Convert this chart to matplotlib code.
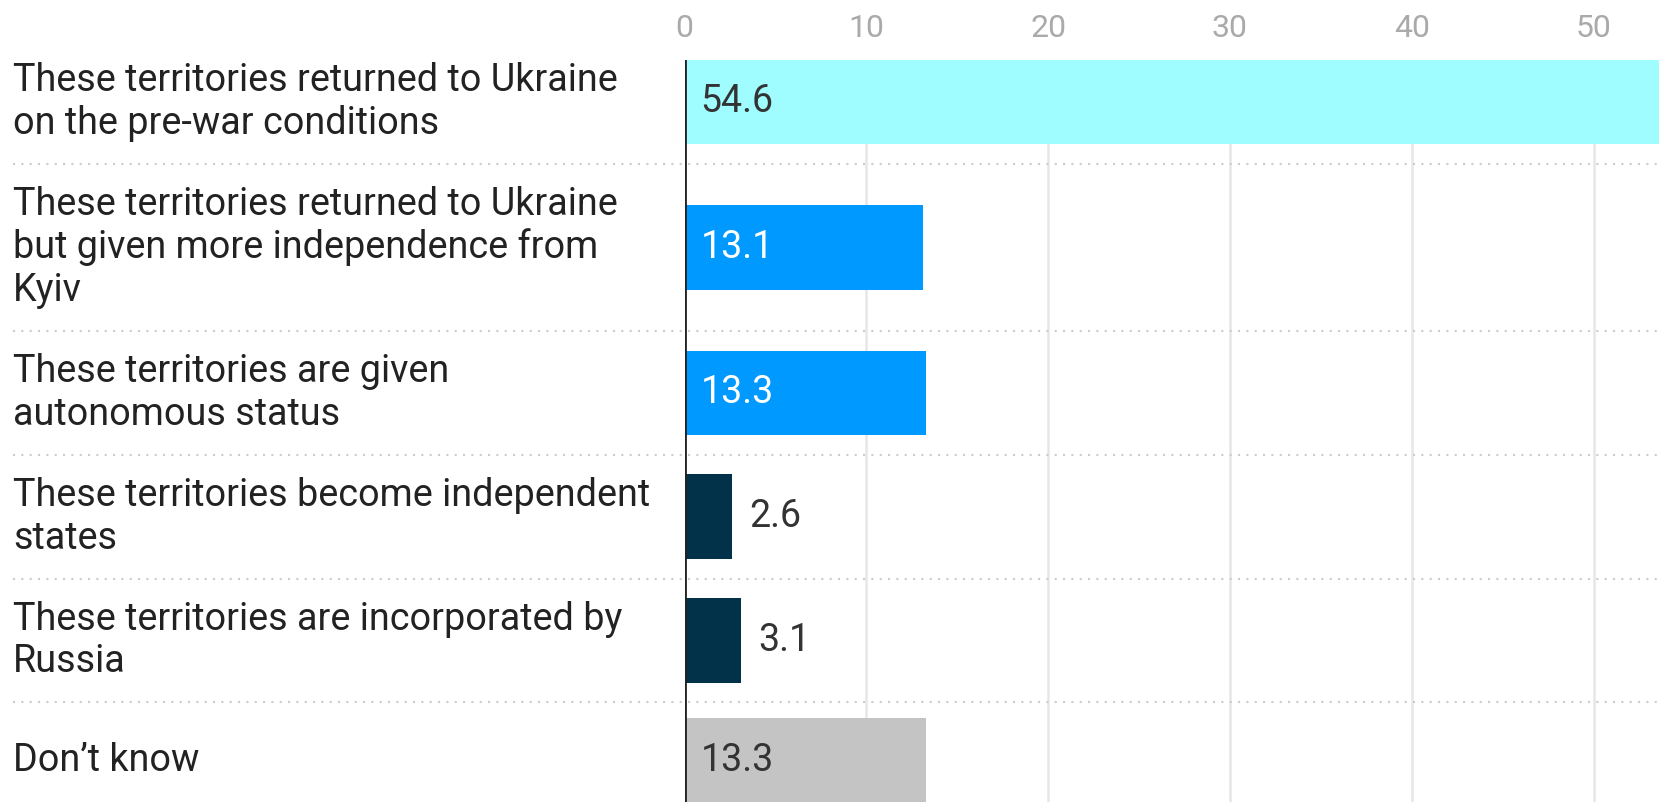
import matplotlib
matplotlib.use("Agg")
import matplotlib.pyplot as plt
from matplotlib.lines import Line2D
from matplotlib.transforms import blended_transform_factory

labels = [
    "These territories returned to Ukraine\non the pre-war conditions",
    "These territories returned to Ukraine\nbut given more independence from\nKyiv",
    "These territories are given\nautonomous status",
    "These territories become independent\nstates",
    "These territories are incorporated by\nRussia",
    "Don\u2019t know",
]
values = [54.6, 13.1, 13.3, 2.6, 3.1, 13.3]
colors = ["#9ffdff", "#0099ff", "#0099ff", "#01324a", "#01324a", "#c4c4c4"]
ticks = [0, 10, 20, 30, 40, 50]

plt.rcParams["font.family"] = ["Roboto", "DejaVu Sans"]

W, H = 1659, 802
fig = plt.figure(figsize=(W / 100, H / 100), dpi=100)

# row layout in pixels (rows grow with the number of label lines)
line_px = 43.4
bar_px = 84.6
n_lines = [l.count("\n") + 1 for l in labels]
heights = [max(116, 37 + line_px * n) for n in n_lines]
centers, seps = [], []
y = 40
for h in heights:
    centers.append(y + h / 2)
    y += h
    seps.append(y)
seps = seps[:-1]

x0_px = 684.5
px_per_unit = 18.18
plot_top = centers[0] - bar_px / 2
ax = fig.add_axes([x0_px / W, 0, 1 - x0_px / W, 1 - plot_top / H])
ax.set_ylim(H, plot_top)
ax.set_xlim(0, (W - x0_px) / px_per_unit)

for s in ax.spines.values():
    s.set_visible(False)

# grid and zero line
ax.vlines(ticks[1:], plot_top, H, color="#e6e6e6", lw=1.8, zorder=0)
ax.axvline(0, color="#222222", lw=2, zorder=3)

ax.barh(centers, values, height=bar_px, color=colors, zorder=2)

ax.xaxis.tick_top()
ax.set_xticks(ticks)
ax.set_xticklabels([str(t) for t in ticks])
ax.tick_params(axis="x", length=0, pad=12, labelsize=23, labelcolor="#aaaaaa")
ax.set_yticks([])

trans = blended_transform_factory(fig.transFigure, ax.transData)

# dotted separators between rows
for s in seps:
    ln = Line2D([13 / W, 1], [s, s], transform=trans, color="#cccccc",
                lw=1.5, linestyle=(0, (1, 3)), zorder=1, clip_on=False)
    fig.add_artist(ln)

for c, lab in zip(centers, labels):
    ax.text(13 / W, c, lab, transform=trans, ha="left", va="center",
            fontsize=27.2, linespacing=1.2, color="#222222")

for c, v, col in zip(centers, values, colors):
    if v > 8:
        x = 16 / px_per_unit
        tc = "white" if col == "#0099ff" else "#333333"
    else:
        x = v + 17 / px_per_unit
        tc = "#333333"
    ax.text(x, c, f"{v:.1f}", ha="left", va="center", fontsize=27,
            color=tc, zorder=4)

fig.savefig("out.png", dpi=100)
